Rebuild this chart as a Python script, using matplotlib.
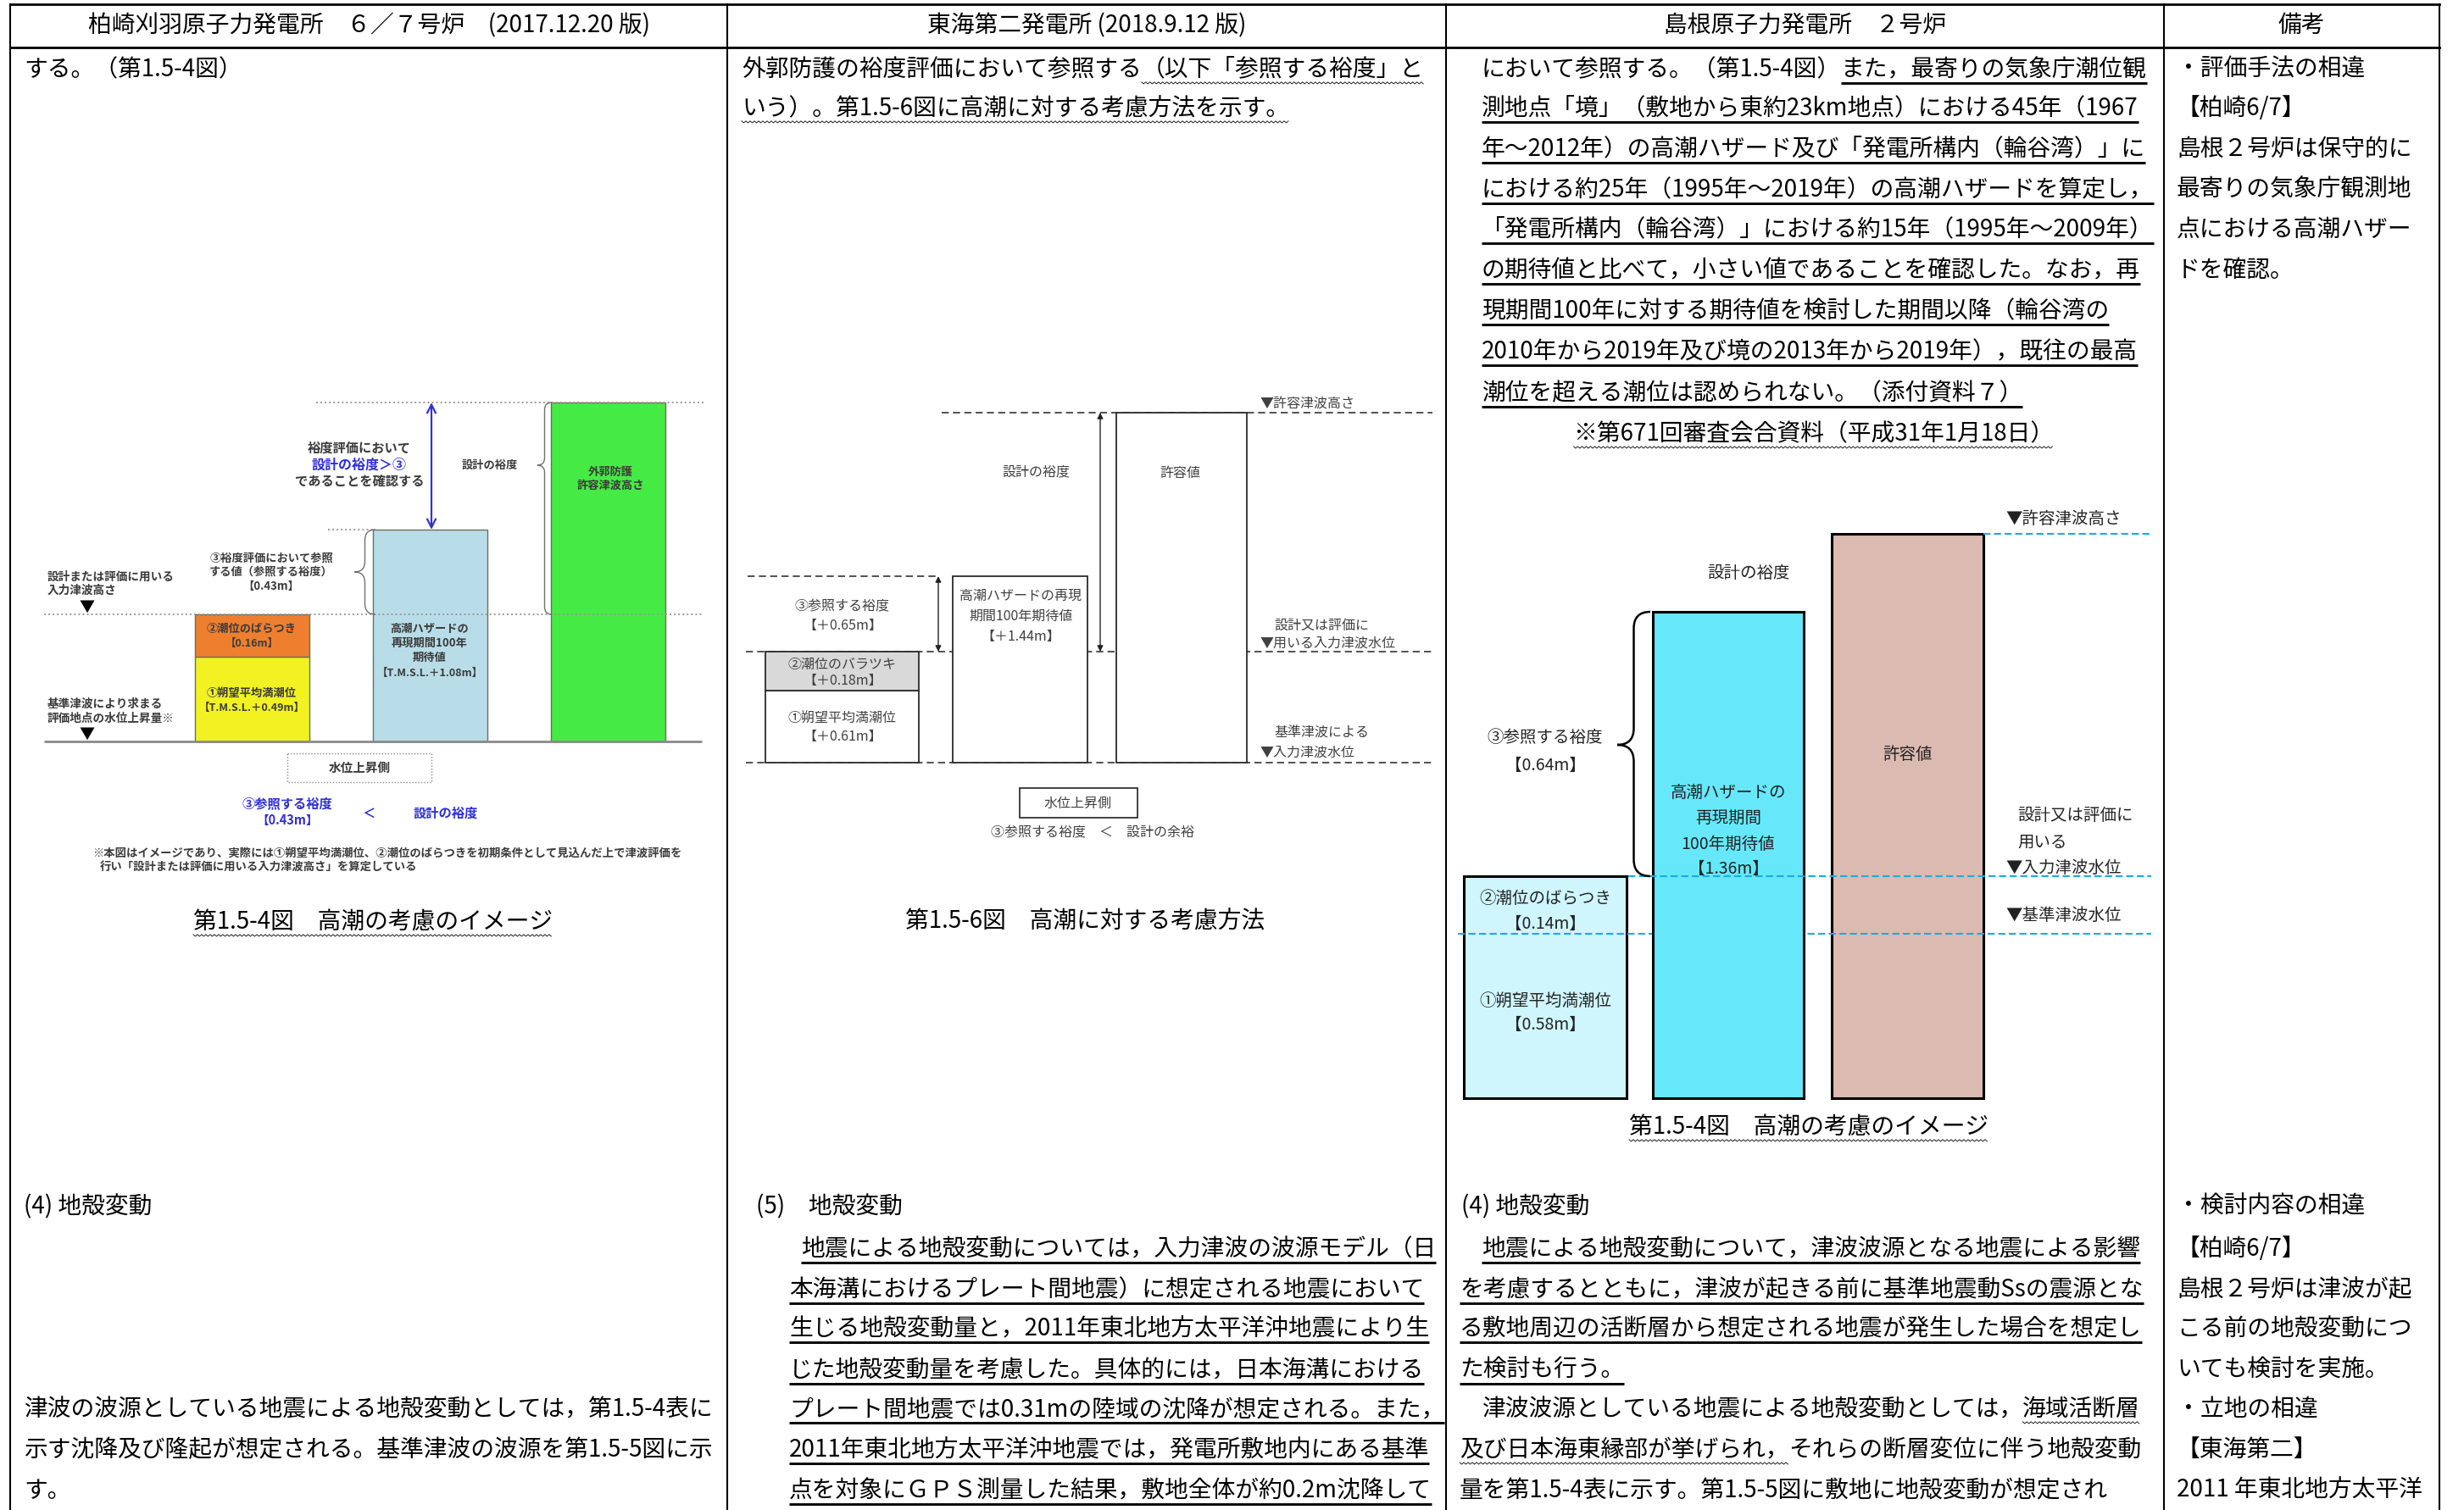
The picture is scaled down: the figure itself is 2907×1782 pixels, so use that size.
import numpy as np
import matplotlib.pyplot as plt
from matplotlib.path import Path
from matplotlib.patches import PathPatch, Rectangle

plt.rcParams['font.family'] = ['Noto Sans CJK JP', 'DejaVu Sans']

# ---------------- table contents ----------------
headers = ['柏崎刈羽原子力発電所　６／７号炉　(2017.12.20 版)',
           '東海第二発電所 (2018.9.12 版)',
           '島根原子力発電所　２号炉',
           '備考']

top_rows = [82, 128, 176, 224, 271, 319, 367, 415, 464, 512]
low_rows = [1424, 1474, 1522, 1568, 1617, 1663, 1711, 1759]

# (row, x, [(text, deco)])  deco: '' none, 'u' bold underline, 'w' wavy underline
col1_lines = [
    (top_rows[0], 28, [('する。（第1.5-4図）', '')]),
    (low_rows[0], 28, [('(4) 地殻変動', '')]),
    (low_rows[5], 28, [('津波の波源としている地震による地殻変動としては，第1.5-4表に', '')]),
    (low_rows[6], 28, [('示す沈降及び隆起が想定される。基準津波の波源を第1.5-5図に示', '')]),
    (low_rows[7], 28, [('す。', '')]),
]
col2_lines = [
    (top_rows[0], 875, [('外郭防護の裕度評価において参照する', ''), ('（以下「参照する裕度」と', 'w')]),
    (top_rows[1], 875, [('いう）。第1.5-6図に高潮に対する考慮方法を示す。', 'w')]),
    (low_rows[0], 892, [('(5)　地殻変動', '')]),
    (low_rows[1], 945, [('地震による地殻変動については，入力津波の波源モデル（日', 'u')]),
    (low_rows[2], 931, [('本海溝におけるプレート間地震）に想定される地震において', 'u')]),
    (low_rows[3], 931, [('生じる地殻変動量と，2011年東北地方太平洋沖地震により生', 'u')]),
    (low_rows[4], 931, [('じた地殻変動量を考慮した。具体的には，日本海溝における', 'u')]),
    (low_rows[5], 931, [('プレート間地震では0.31mの陸域の沈降が想定される。また，', 'u')]),
    (low_rows[6], 931, [('2011年東北地方太平洋沖地震では，発電所敷地内にある基準', 'u')]),
    (low_rows[7], 931, [('点を対象にＧＰＳ測量した結果，敷地全体が約0.2m沈降して', 'u')]),
]
col3_lines = [
    (top_rows[0], 1748, [('において参照する。（第1.5-4図）', ''), ('また，最寄りの気象庁潮位観', 'u')]),
    (top_rows[1], 1748, [('測地点「境」（敷地から東約23km地点）における45年（1967', 'u')]),
    (top_rows[2], 1748, [('年～2012年）の高潮ハザード及び「発電所構内（輪谷湾）」に', 'u')]),
    (top_rows[3], 1748, [('における約25年（1995年～2019年）の高潮ハザードを算定し，', 'u')]),
    (top_rows[4], 1748, [('「発電所構内（輪谷湾）」における約15年（1995年～2009年）', 'u')]),
    (top_rows[5], 1748, [('の期待値と比べて，小さい値であることを確認した。なお，再', 'u')]),
    (top_rows[6], 1748, [('現期間100年に対する期待値を検討した期間以降（輪谷湾の', 'u')]),
    (top_rows[7], 1748, [('2010年から2019年及び境の2013年から2019年），既往の最高', 'u')]),
    (top_rows[8], 1748, [('潮位を超える潮位は認められない。（添付資料７）', 'u')]),
    (low_rows[0], 1724, [('(4) 地殻変動', '')]),
    (low_rows[1], 1748, [('地震による地殻変動について，津波波源となる地震による影響', 'u')]),
    (low_rows[2], 1722, [('を考慮するとともに，津波が起きる前に基準地震動Ssの震源とな', 'u')]),
    (low_rows[3], 1722, [('る敷地周辺の活断層から想定される地震が発生した場合を想定し', 'u')]),
    (low_rows[4], 1722, [('た検討も行う。', 'u')]),
    (low_rows[5], 1748, [('津波波源としている地震による地殻変動としては，', ''), ('海域活断層', 'w')]),
    (low_rows[6], 1722, [('及び日本海東縁部が挙げられ，', 'w'), ('それらの断層変位に伴う地殻変動', '')]),
    (low_rows[7], 1722, [('量を第1.5-4表に示す。第1.5-5図に敷地に地殻変動が想定され', '')]),
]
col4_top = ['・評価手法の相違', '【柏崎6/7】', '島根２号炉は保守的に',
            '最寄りの気象庁観測地', '点における高潮ハザー', 'ドを確認。']
col4_low = ['・検討内容の相違', '【柏崎6/7】', '島根２号炉は津波が起',
            'こる前の地殻変動につ', 'いても検討を実施。', '・立地の相違',
            '【東海第二】', '2011 年東北地方太平洋']

# ---------------- diagram values ----------------
# 柏崎刈羽: ①朔望平均満潮位, ②潮位のばらつき, 高潮ハザード, 許容津波高さ (schematic heights)
kk_vals = [0.49, 0.16, 1.08, 0.43]
kk_bottom = [0.0, 1.0, 0.0, 0.0]
kk_height = [1.0, 0.5, 2.5, 4.0]
kk_colors = ['#f2f223', '#ee7f2f', '#b8dde8', '#45ea45']

# 東海第二
tk_vals = [0.61, 0.18, 1.44, 0.65]
tk_bottom = [0.0, 0.85, 0.0, 0.0]
tk_height = [0.85, 0.46, 2.20, 4.13]
tk_colors = ['white', '#d9d9d9', 'white', 'white']

# 島根
sm_vals = [0.58, 0.14, 1.36, 0.64]
sm_bottom = [0.0, 1.94, 0.0, 0.0]
sm_height = [1.94, 0.68, 5.74, 6.66]
sm_colors = ['#cff6fd', '#cff6fd', '#66e8fa', '#dbbab1']

# ---------------- figure ----------------
W, H = 2907, 1782
fig = plt.figure(figsize=(W / 100, H / 100), dpi=100)
fig.patch.set_facecolor('white')
ax = fig.add_axes([0, 0, 1, 1])
ax.set_xlim(0, W)
ax.set_ylim(H, 0)
ax.axis('off')
ax.set_zorder(10)
renderer = fig.canvas.get_renderer()

BODY = 20.0


def text_line(x, y, parts, size=BODY, ha='left', color='black'):
    if ha == 'center':
        tmp = ax.text(0, 0, ''.join(p for p, _ in parts), fontsize=size)
        x = x - tmp.get_window_extent(renderer).width / 2
        tmp.remove()
    cx = x
    for txt, deco in parts:
        t = ax.text(cx, y, txt, fontsize=size, va='center', ha='left', color=color)
        bb = t.get_window_extent(renderer)
        uy = y + size / 0.72 * 0.5 + 2
        if deco == 'u':
            ax.plot([bb.x0, bb.x1], [uy, uy], color='black', lw=2.1, solid_capstyle='butt')
        elif deco == 'w':
            xs = np.arange(bb.x0, bb.x1, 2.5)
            ys = uy + np.where(np.arange(len(xs)) % 2 == 0, -1.1, 1.1)
            ax.plot(xs, ys, color='black', lw=0.6)
        cx = bb.x1


def panel(x0, x1, y0, y1, base, unit):
    a = fig.add_axes([x0 / W, 1 - y1 / H, (x1 - x0) / W, (y1 - y0) / H])
    a.set_xlim(x0, x1)
    a.set_ylim((base - y1) / unit, (base - y0) / unit)
    a.axis('off')
    return a


def brace(x_end, x_tip, y0, y1, y_tip, lw, color):
    xm = (x_end + x_tip) / 2
    r = abs(x_end - xm)
    verts = [(x_end, y0), (xm, y0), (xm, y0 + r), (xm, y_tip - r), (xm, y_tip), (x_tip, y_tip),
             (xm, y_tip), (xm, y_tip + r), (xm, y1 - r), (xm, y1), (x_end, y1)]
    codes = [Path.MOVETO, Path.CURVE3, Path.CURVE3, Path.LINETO, Path.CURVE3, Path.CURVE3,
             Path.CURVE3, Path.CURVE3, Path.LINETO, Path.CURVE3, Path.CURVE3]
    ax.add_patch(PathPatch(Path(verts, codes), fill=False, lw=lw, edgecolor=color))


def label(x, y, s, size, color='#333333', ha='center', weight='normal'):
    ax.text(x, y, s, fontsize=size, ha=ha, va='center', color=color, fontweight=weight)


# table frame
col_edges = [12, 858, 1706, 2553, 2878]
for x in col_edges:
    ax.plot([x, x], [5, H], color='black', lw=1.5)
for y in (5, 56):
    ax.plot([col_edges[0], col_edges[-1]], [y, y], color='black', lw=2.0)
for i, h in enumerate(headers):
    ax.text((col_edges[i] + col_edges[i + 1]) / 2, 30, h, ha='center', va='center', fontsize=BODY)

for lines in (col1_lines, col2_lines, col3_lines):
    for y, x, parts in lines:
        text_line(x, y, parts)
for y, s in zip(top_rows, col4_top):
    text_line(2568, y, [(s, '')])
for y, s in zip(low_rows, col4_low):
    text_line(2568, y, [(s, '')])

text_line(2140, top_rows[9], [('※第671回審査会合資料（平成31年1月18日）', 'w')], ha='center')

# ---------------- 柏崎刈羽 diagram ----------------
a1 = panel(40, 850, 440, 900, 875, 100)
kk_x = [297, 297, 507, 717]
a1.bar(kk_x, kk_height, width=135, bottom=kk_bottom, color=kk_colors,
       edgecolor='#6e6e55', linewidth=1.0, zorder=2)
dotted = dict(color='#9a9a9a', lw=1.4, linestyle=(0, (1, 1.6)), zorder=3)
a1.hlines(0, 52, 828, color='#8a8a8a', lw=2.0, zorder=3)
a1.hlines(kk_bottom[1] + kk_height[1], 52, 828, **dotted)
a1.hlines(kk_height[2], 387, 441, **dotted)
a1.hlines(kk_height[3], 373, 830, **dotted)
a1.annotate('', xy=(509, kk_height[3]), xytext=(509, kk_height[2]),
            arrowprops=dict(arrowstyle='<->', color='#3434c8', lw=1.6,
                            mutation_scale=18, shrinkA=0, shrinkB=0))

k = '#3a3a3a'
blue = '#2f2fd6'
label(424, 529, '裕度評価において', 11, k, weight='bold')
label(424, 549, '設計の裕度＞③', 11.5, blue, weight='bold')
label(424, 569, 'であることを確認する', 11, k, weight='bold')
label(578, 549, '設計の裕度', 9.5, k, weight='bold')
brace(651, 634, 475, 725, 549, 1.0, '#707070')
label(720, 557, '外郭防護', 9.5, k, weight='bold')
label(720, 573, '許容津波高さ', 9.5, k, weight='bold')
label(320, 659, '③裕度評価において参照', 9.5, k, weight='bold')
label(320, 675, 'する値（参照する裕度）', 9.5, k, weight='bold')
label(320, 692, f'【{kk_vals[3]:.2f}m】', 9.5, k, weight='bold')
brace(443, 418, 625, 725, 675, 1.0, '#707070')
label(56, 681, '設計または評価に用いる', 9.8, k, ha='left', weight='bold')
label(56, 697, '入力津波高さ', 9.8, k, ha='left', weight='bold')
label(102, 717, '▼', 13, 'black')
label(56, 831, '基準津波により求まる', 9.8, k, ha='left', weight='bold')
label(56, 848, '評価地点の水位上昇量※', 9.8, k, ha='left', weight='bold')
label(102, 867, '▼', 13, 'black')
label(297, 742, '②潮位のばらつき', 9.5, k, weight='bold')
label(297, 759, f'【{kk_vals[1]:.2f}m】', 9, k, weight='bold')
label(297, 818, '①朔望平均満潮位', 9.5, k, weight='bold')
label(297, 835, f'【T.M.S.L.＋{kk_vals[0]:.2f}m】', 9, k, weight='bold')
label(507, 742, '高潮ハザードの', 9.5, k, weight='bold')
label(507, 759, '再現期間100年', 9.5, k, weight='bold')
label(507, 776, '期待値', 9.5, k, weight='bold')
label(507, 794, f'【T.M.S.L.＋{kk_vals[2]:.2f}m】', 9, k, weight='bold')
ax.add_patch(Rectangle((339, 889), 170, 34, fill=False, edgecolor='#888888', lw=1.0,
                       linestyle=(0, (1, 1.5))))
label(424, 906, '水位上昇側', 10.5, k, weight='bold')
label(339, 948, '③参照する裕度', 11, blue, weight='bold')
label(339, 968, f'【{kk_vals[3]:.2f}m】', 10.5, blue, weight='bold')
label(435, 960, '＜', 11, blue, weight='bold')
label(526, 960, '設計の裕度', 11, blue, weight='bold')
label(109, 1008, '※本図はイメージであり、実際には①朔望平均満潮位、②潮位のばらつきを初期条件として見込んだ上で津波評価を',
      9.6, k, ha='left', weight='bold')
label(118, 1024, '行い「設計または評価に用いる入力津波高さ」を算定している', 9.6, k, ha='left', weight='bold')
text_line(440, 1088, [('第1.5-4図　高潮の考慮のイメージ', 'w')], ha='center')

# ---------------- 東海第二 diagram ----------------
a2 = panel(870, 1700, 460, 920, 900, 100)
tk_x = [993.5, 993.5, 1203.5, 1394]
a2.bar(tk_x, tk_height, width=[181, 181, 159, 154], bottom=tk_bottom, color=tk_colors,
       edgecolor='#2a2a2a', linewidth=1.3, zorder=2)
dashed = dict(color='#333333', lw=1.2, linestyle=(0, (5, 3)), zorder=1)
a2.hlines(0, 880, 1690, **dashed)
a2.hlines(tk_bottom[1] + tk_height[1], 880, 1690, **dashed)
a2.hlines(tk_height[2], 882, 1105, **dashed)
a2.hlines(tk_height[3], 1111, 1690, **dashed)
arr = dict(arrowstyle='<|-|>', color='#222222', lw=1.0, mutation_scale=10, shrinkA=0, shrinkB=0)
a2.annotate('', xy=(1107, tk_height[2]), xytext=(1107, tk_bottom[1] + tk_height[1]), arrowprops=arr)
a2.annotate('', xy=(1298, tk_height[3]), xytext=(1298, tk_bottom[1] + tk_height[1]), arrowprops=arr)

g = '#404040'
label(1487, 476, '▼許容津波高さ', 11.5, g, ha='left')
label(1222, 557, '設計の裕度', 11.5, g)
label(1392, 559, '許容値', 11.5, g)
label(994, 716, '③参照する裕度', 11.5, g)
label(994, 738, f'【＋{tk_vals[3]:.2f}m】', 11.5, g)
label(1204, 703, '高潮ハザードの再現', 11.5, g)
label(1204, 727, '期間100年期待値', 11.5, g)
label(1204, 751, f'【＋{tk_vals[2]:.2f}m】', 11.5, g)
label(1503, 738, '設計又は評価に', 11.5, g, ha='left')
label(1487, 759, '▼用いる入力津波水位', 11.5, g, ha='left')
label(994, 784, '②潮位のバラツキ', 11.5, g)
label(994, 803, f'【＋{tk_vals[1]:.2f}m】', 11.5, g)
label(994, 847, '①朔望平均満潮位', 11.5, g)
label(994, 869, f'【＋{tk_vals[0]:.2f}m】', 11.5, g)
label(1503, 865, '基準津波による', 11.5, g, ha='left')
label(1487, 888, '▼入力津波水位', 11.5, g, ha='left')
ax.add_patch(Rectangle((1203, 930), 139, 35, fill=False, edgecolor='#333333', lw=1.3))
label(1272, 948, '水位上昇側', 11.5, g)
label(1289, 983, '③参照する裕度　＜　設計の余裕', 11.5, g)
text_line(1280, 1088, [('第1.5-6図　高潮に対する考慮方法', '')], ha='center')

# ---------------- 島根 diagram ----------------
a3 = panel(1712, 2545, 600, 1310, 1296, 100)
cyan = '#17ace8'
a3.bar([1823, 1823], sm_height[:2], width=192, bottom=sm_bottom[:2], color=sm_colors[:2],
       edgecolor='none', zorder=1)
a3.bar(1823, sm_bottom[1] + sm_height[1], width=192, fill=False, edgecolor='black', lw=2.2, zorder=1.5)
a3.bar(2250.5, sm_height[3], width=179, color=sm_colors[3], edgecolor='black', lw=2.2, zorder=1)
a3.hlines(sm_bottom[1], 1720, 2538, color=cyan, lw=1.5, linestyle=(0, (4, 2)), zorder=2)
a3.bar(2039, sm_height[2], width=178, color=sm_colors[2], edgecolor='black', lw=2.2, zorder=3)
a3.hlines(sm_bottom[1] + sm_height[1], 1921, 2538, color=cyan, lw=1.5, linestyle=(0, (4, 2)), zorder=4)
a3.hlines(sm_height[3], 2340, 2538, color=cyan, lw=1.5, linestyle=(0, (4, 2)), zorder=4)
brace(1947, 1908, 722, 1034, 879, 1.8, 'black')

s = '#222222'
label(2063, 676, '設計の裕度', 14, s)
label(1823, 871, '③参照する裕度', 14, s)
label(1823, 903, f'【{sm_vals[3]:.2f}m】', 14, s)
label(2039, 935, '高潮ハザードの', 14, s)
label(2039, 965, '再現期間', 14, s)
label(2039, 996, '100年期待値', 14, s)
label(2039, 1025, f'【{sm_vals[2]:.2f}m】', 14, s)
label(2251, 891, '許容値', 14, s)
label(1823, 1060, '②潮位のばらつき', 14, s)
label(1823, 1090, f'【{sm_vals[1]:.2f}m】', 14, s)
label(1823, 1181, '①朔望平均満潮位', 14, s)
label(1823, 1209, f'【{sm_vals[0]:.2f}m】', 14, s)
label(2366, 613, '▼許容津波高さ', 14, s, ha='left')
label(2380, 963, '設計又は評価に', 14, s, ha='left')
label(2380, 994, '用いる', 14, s, ha='left')
label(2366, 1024, '▼入力津波水位', 14, s, ha='left')
label(2366, 1080, '▼基準津波水位', 14, s, ha='left')
text_line(2134, 1330, [('第1.5-4図　高潮の考慮のイメージ', 'w')], ha='center')

fig.savefig('out.png', dpi=100, facecolor='white')
